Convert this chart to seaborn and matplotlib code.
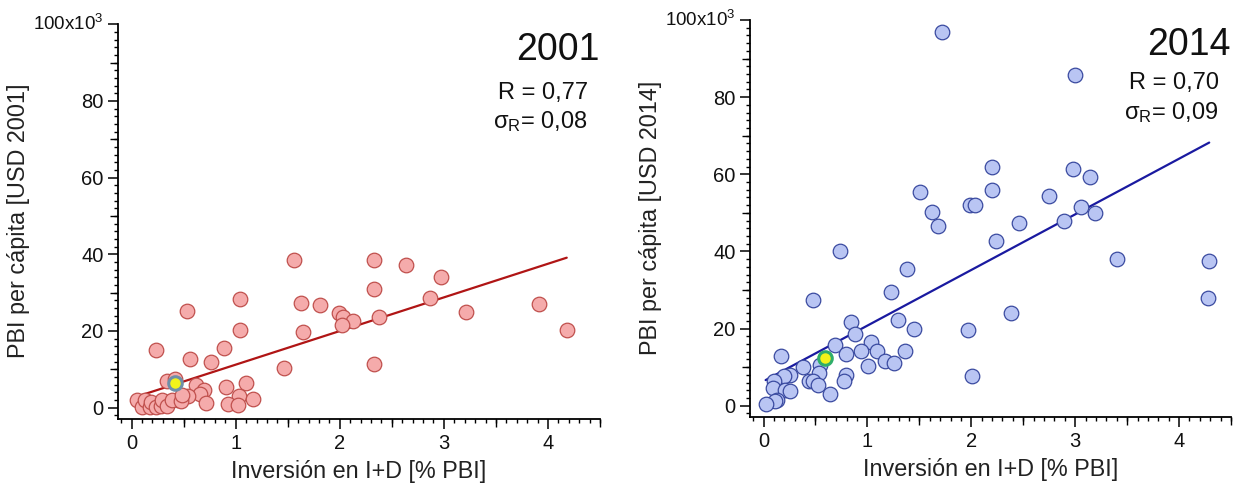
import numpy as np
import pandas as pd
import matplotlib
matplotlib.use("Agg")
import matplotlib.pyplot as plt
from matplotlib.ticker import MultipleLocator
import seaborn as sns

# ---------------- data ----------------
x2001 = [1.56, 2.33, 2.64, 2.97, 2.33, 2.87, 1.04, 1.63, 1.81, 3.91,
         0.53, 3.21, 1.99, 2.03, 2.38, 2.13, 2.02, 1.04, 4.18, 1.65,
         0.23, 0.89, 0.56, 0.76, 1.46, 2.33, 0.34, 0.42, 1.10, 0.62,
         0.91, 0.70, 0.66, 1.03, 1.17, 0.71, 0.93, 1.02, 0.54, 0.45,
         0.05, 0.10, 0.13, 0.18, 0.19, 0.23, 0.28, 0.29, 0.34, 0.39,
         0.47, 0.48]
y2001 = [38.5, 38.5, 37.2, 34.0, 30.8, 28.5, 28.2, 27.3, 26.7, 26.9,
         25.2, 24.9, 24.6, 23.7, 23.6, 22.6, 21.6, 20.3, 20.2, 19.6,
         15.1, 15.5, 12.7, 11.9, 10.4, 11.3, 7.0, 7.5, 6.5, 5.8,
         5.3, 4.6, 3.4, 3.1, 2.1, 1.2, 0.9, 0.7, 3.0, 2.0,
         1.9, 0.2, 1.9, 0.2, 1.5, 0.2, 0.4, 1.9, 0.4, 1.9,
         1.6, 3.2]
hl2001_x = [0.42]
hl2001_y = [6.3]

x2014 = [1.72, 3.00, 2.20, 2.98, 3.14, 2.20, 1.51, 2.75, 1.99, 2.04,
         3.06, 1.62, 3.19, 2.89, 1.68, 2.46, 2.24, 0.74, 3.40, 4.29,
         1.38, 1.23, 4.28, 0.48, 2.38, 1.29, 0.84, 1.45, 1.97, 0.88,
         1.03, 0.69, 0.94, 1.09, 1.36, 0.79, 0.17, 1.17, 1.26, 0.54,
         1.01, 0.38, 0.53, 0.79, 2.01, 0.25, 0.20, 0.44, 0.48, 0.77,
         0.52, 0.10, 0.09, 0.21, 0.25, 0.64, 0.13, 0.11, 0.02]
y2014 = [97.0, 85.8, 62.0, 61.3, 59.2, 56.0, 55.5, 54.5, 52.1, 52.1,
         51.4, 50.2, 49.9, 47.9, 46.5, 47.3, 42.7, 40.2, 38.1, 37.6,
         35.4, 29.6, 27.9, 27.3, 24.0, 22.1, 21.7, 19.9, 19.7, 18.7,
         16.5, 15.8, 14.2, 14.1, 14.1, 13.5, 12.8, 11.7, 11.2, 10.6,
         10.4, 10.0, 8.5, 8.0, 7.7, 7.9, 7.6, 6.5, 6.3, 6.3,
         5.4, 6.3, 4.6, 4.1, 3.9, 3.0, 1.6, 1.3, 0.4]
hl2014_x = [0.59]
hl2014_y = [12.5]

years = ["2001", "2014"]
r_texts = ["R = 0,77", "R = 0,70"]
sig_texts = ["0,08", "0,09"]
ylabels = ["PBI per cápita [USD 2001]", "PBI per cápita [USD 2014]"]
xlabel = "Inversión en I+D [% PBI]"
ytick_vals = [0, 20, 40, 60, 80, 100]
ytick_labels = ["0", "20", "40", "60", "80", r"100x10$^{3}$"]
xtick_vals = [0, 1, 2, 3, 4]

# ---------------- style ----------------
sns.set_theme(style="ticks")
plt.rcParams["font.family"] = ["Liberation Sans", "DejaVu Sans"]
plt.rcParams["mathtext.fontset"] = "custom"
plt.rcParams["mathtext.rm"] = "Liberation Sans"
plt.rcParams["mathtext.it"] = "Liberation Sans"
plt.rcParams["mathtext.bf"] = "Liberation Sans:bold"

fig = plt.figure(figsize=(12.48, 4.90), dpi=100)
ax1 = fig.add_axes([0.0946, 0.1449, 0.3862, 0.8088])
ax2 = fig.add_axes([0.6010, 0.1484, 0.3854, 0.8139])

panels = [
    (ax1, x2001, y2001, hl2001_x, hl2001_y, "#f5abab", "#c0504d", "#b01515", "#6f8fa8",
     (0.932, 0.823, 0.750)),
    (ax2, x2014, y2014, hl2014_x, hl2014_y, "#b9c5f3", "#3a4aa0", "#1a1aa0", "#2fae6a",
     (0.933, 0.838, 0.763)),
]

for i, (ax, xs, ys, hx, hy, fc, ec, lc, hec, tpos) in enumerate(panels):
    df = pd.DataFrame({"x": list(xs) + list(hx), "y": list(ys) + list(hy)})
    sns.regplot(data=df, x="x", y="y", ax=ax, scatter=False, ci=None,
                color=lc, line_kws={"lw": 1.6, "zorder": 2})
    sns.scatterplot(x=xs, y=ys, ax=ax, s=110, color=fc, edgecolor=ec,
                    linewidth=0.9, zorder=3, legend=False)
    sns.scatterplot(x=hx, y=hy, ax=ax, s=95, color="#f2f21a", edgecolor=hec,
                    linewidth=2.2, zorder=4, legend=False)

    ax.set_xlim(-0.13, 4.5)
    ax.set_ylim(-3.0, 100.4)
    ax.set_xticks(xtick_vals)
    ax.set_xticklabels([str(v) for v in xtick_vals])
    ax.set_yticks(ytick_vals)
    ax.set_yticklabels(ytick_labels)
    ax.xaxis.set_minor_locator(MultipleLocator(0.1))
    ax.yaxis.set_minor_locator(MultipleLocator(2))
    ax.tick_params(which="major", direction="out", length=7.5, width=1.1,
                   labelsize=14.5, color="black", labelcolor="#111111", pad=3)
    ax.tick_params(which="minor", direction="out", length=3.2, width=1.0,
                   color="black")
    for side in ["top", "right"]:
        ax.spines[side].set_visible(False)
    for side in ["left", "bottom"]:
        ax.spines[side].set_linewidth(1.3)
        ax.spines[side].set_color("black")
    ax.spines["left"].set_bounds(-3.0, 100)
    toplab = ax.yaxis.get_majorticklabels()[-1]
    toplab.set_fontsize(13.5)
    toplab.set_verticalalignment("center")

    # medium ticks
    secy = ax.secondary_yaxis("left")
    secy.set_yticks([10, 30, 50, 70, 90])
    secy.set_yticklabels([])
    secy.tick_params(direction="out", length=5.5, width=1.0, color="black")
    secy.spines["left"].set_visible(False)
    secx = ax.secondary_xaxis("bottom")
    secx.set_xticks([0.5, 1.5, 2.5, 3.5, 4.5])
    secx.set_xticklabels([])
    secx.tick_params(direction="out", length=5.5, width=1.0, color="black")
    secx.spines["bottom"].set_visible(False)

    ax.set_xlabel(xlabel, fontsize=16.8, color="#222222", labelpad=5)
    ax.set_ylabel(ylabels[i], fontsize=16.8, color="#222222", labelpad=2)

    ax.text(1.0, tpos[0], years[i], transform=ax.transAxes, ha="right",
            va="center", fontsize=27, color="#111111")
    ax.text(0.975, tpos[1], r_texts[i], transform=ax.transAxes, ha="right",
            va="center", fontsize=17, color="#111111")
    ax.text(0.975, tpos[2], "σ$_{\\mathrm{R}}$= " + sig_texts[i],
            transform=ax.transAxes, ha="right", va="center", fontsize=17,
            color="#111111")

fig.savefig("out.png", dpi=100)
